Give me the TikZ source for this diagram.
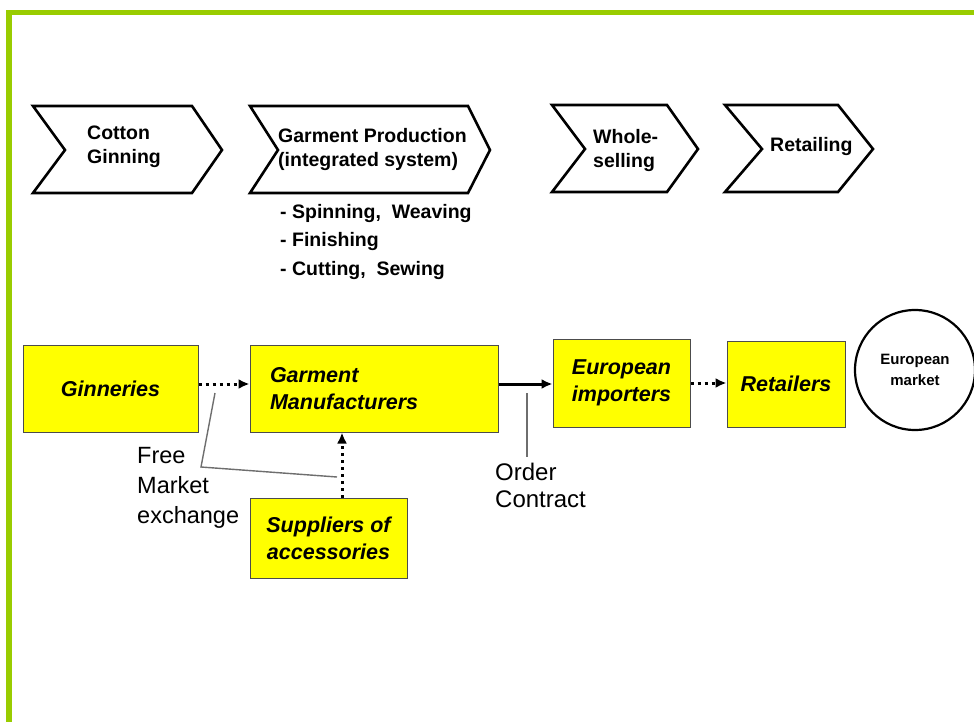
\documentclass[tikz,border=0pt]{standalone}
\usepackage{fontspec}
\setmainfont{Liberation Sans}
\usepackage{tikz}
\usetikzlibrary{arrows.meta,positioning}
\definecolor{framegreen}{RGB}{153,204,0}
\definecolor{actoryellow}{RGB}{255,255,0}
\definecolor{noteline}{RGB}{110,110,110}
\newcommand\stepfont{\fontsize{19.5}{24}\selectfont\bfseries}
\newcommand\actorfont{\fontsize{21.5}{27}\selectfont\bfseries\itshape}
\newcommand\notefont{\fontsize{23.5}{30}\selectfont}
\tikzset{
  chevron/.style={draw=black, line width=2.6pt, line join=miter, fill=white},
  steptext/.style={font=\stepfont, align=left, inner sep=0pt},
  actorbox/.style={draw=black!70, line width=1pt, fill=actoryellow, inner sep=0pt, align=center, font=\actorfont},
  marketnode/.style={draw=black, circle, line width=2.2pt, minimum size=120pt, inner sep=0pt, align=center, font=\fontsize{15}{21}\selectfont\bfseries},
  notetext/.style={font=\notefont, align=left, inner sep=0pt},
  flowsolid/.style={-{Latex[length=11pt,width=10pt]}, line width=3pt},
  flowdotted/.style={-{Latex[length=11pt,width=10pt]}, line width=3pt, dash pattern=on 3pt off 4pt},
  noteline/.style={draw=noteline, line width=1.4pt}
}
\begin{document}
\begin{tikzpicture}[x=1pt,y=-1pt]
  \useasboundingbox (0,0) rectangle (974,722);
  \fill[white] (0,0) rectangle (974,722);
  % frame
  \fill[framegreen] (6,10) rectangle (974,15);
  \fill[framegreen] (6,10) rectangle (12,722);

  % value chain steps
  \draw[chevron] (33,106) -- (192,106) -- (222,150) -- (192,193) -- (33,193) -- (65,150) -- cycle;
  \draw[chevron] (250,106) -- (468,106) -- (490,150) -- (468,193) -- (250,193) -- (278,150) -- cycle;
  \draw[chevron] (552,105) -- (667,105) -- (698,149) -- (667,192) -- (552,192) -- (585,149) -- cycle;
  \draw[chevron] (725,105) -- (838,105) -- (873,149) -- (838,192) -- (725,192) -- (762,149) -- cycle;
  \node[steptext] (ginning) at (124,147) {Cotton\\Ginning};
  \node[steptext, anchor=west] (production) at (278,150) {Garment Production\\(integrated system)};
  \node[steptext, anchor=west] (wholesale) at (593,151) {Whole-\\selling};
  \node[steptext, anchor=west] (retailing) at (770,147) {Retailing};
  \node[steptext, anchor=west, font=\fontsize{19.5}{28.5}\selectfont\bfseries] (stages) at (280,242)
    {- Spinning,\ \ Weaving\\- Finishing\\- Cutting,\ \ Sewing};

  % actors
  \node[actorbox, minimum width=175pt, minimum height=87pt] (ginneries) at (110.5,388.5) {Ginneries};
  \node[actorbox, text width=208pt, inner xsep=20pt, minimum height=87pt, align=left] (garment) at (374,388.5) {Garment\\Manufacturers};
  \node[actorbox, minimum width=157pt, minimum height=80pt] (suppliers) at (328.5,538) {Suppliers of\\accessories};
  \node[actorbox, minimum width=137pt, minimum height=88pt] (importers) at (621.5,383) {European\\importers};
  \node[actorbox, minimum width=118pt, minimum height=86pt] (retailers) at (786,384) {Retailers};
  \node[marketnode] (market) at (915,370) {European\\market};

  % flows
  \draw[flowdotted] ([yshift=4.5pt]ginneries.east) -- ([yshift=4.5pt]ginneries.east -| garment.west);
  \draw[flowsolid] ([yshift=4.5pt]garment.east) -- ([yshift=4.5pt]garment.east -| importers.west);
  \draw[flowdotted] (importers.east) -- (importers.east -| retailers.west);
  \draw[flowdotted] ([xshift=13.5pt]suppliers.north) -- ([xshift=13.5pt]suppliers.north |- garment.south);

  % annotations
  \coordinate (fmtop) at (215,393);
  \coordinate (fmbend) at (201,467);
  \coordinate (fmend) at (337,477);
  \draw[noteline] (fmtop) -- (fmbend) -- (fmend);
  \node[notetext, anchor=north west] (freemarket) at (137,447) {Free\\Market\\exchange};
  \coordinate (octop) at (527,393);
  \coordinate (ocend) at (527,457);
  \draw[noteline] (octop) -- (ocend);
  \node[notetext, anchor=north west, font=\fontsize{24}{27}\selectfont] (order) at (495,463) {Order\\Contract};
\end{tikzpicture}
\end{document}
